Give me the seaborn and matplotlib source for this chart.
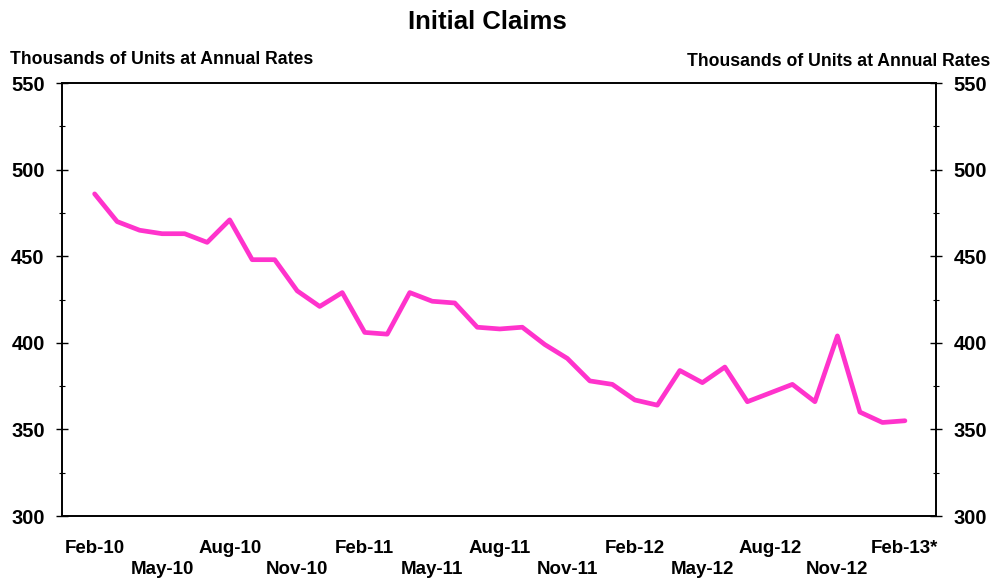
import pandas as pd
import numpy as np
import matplotlib
matplotlib.use("Agg")
import matplotlib.pyplot as plt
import seaborn as sns
from matplotlib.ticker import MultipleLocator

sns.set_style("white")
plt.rcParams['font.family'] = ['Liberation Sans', 'DejaVu Sans']
plt.rcParams['font.weight'] = 'bold'
plt.rcParams['text.color'] = 'black'
plt.rcParams['xtick.color'] = 'black'
plt.rcParams['ytick.color'] = 'black'

# 数据
months = ['Feb-10', 'Mar-10', 'Apr-10', 'May-10', 'Jun-10', 'Jul-10', 'Aug-10', 'Sep-10',
          'Oct-10', 'Nov-10', 'Dec-10', 'Jan-11', 'Feb-11', 'Mar-11', 'Apr-11', 'May-11',
          'Jun-11', 'Jul-11', 'Aug-11', 'Sep-11', 'Oct-11', 'Nov-11', 'Dec-11', 'Jan-12',
          'Feb-12', 'Mar-12', 'Apr-12', 'May-12', 'Jun-12', 'Jul-12', 'Aug-12', 'Sep-12',
          'Oct-12', 'Nov-12', 'Dec-12', 'Jan-13', 'Feb-13*']
claims = [486, 470, 465, 463, 463, 458, 471, 448, 448, 430, 421, 429,
          406, 405, 429, 424, 423, 409, 408, 409, 399, 391, 378, 376,
          367, 364, 384, 377, 386, 366, 371, 376, 366, 404, 360, 354, 355]
y_ticks = [300, 350, 400, 450, 500, 550]

df = pd.DataFrame({'month': months, 'claims': claims})
df['pos'] = np.arange(len(df))

fig = plt.figure(figsize=(9.95, 5.79), dpi=100)
ax = fig.add_axes([0.0623, 0.1088, 0.8784, 0.7478])

sns.lineplot(data=df, x='pos', y='claims', ax=ax, color='#FF33CC', linewidth=3.4)

ax.set_xlim(-1.45, len(df) - 1 + 1.38)
ax.set_ylim(300, 550)
ax.set_xlabel('')
ax.set_ylabel('')

# x 轴刻度：每月一个刻度，每三个月一个标签，交错两行
ax.set_xticks(df['pos'])
labels = []
for i, m in enumerate(months):
    if i % 6 == 0:
        labels.append(m)
    elif i % 3 == 0:
        labels.append('\n' + m)
    else:
        labels.append('')
ax.set_xticklabels(labels, fontsize=13.5, fontweight='bold', linespacing=1.35)
ax.tick_params(axis='x', direction='inout', length=8, width=0.8, pad=13)

ax.set_yticks(y_ticks)
ax.yaxis.set_minor_locator(MultipleLocator(25))
ax.tick_params(axis='y', which='major', direction='inout', length=9, width=1, pad=8,
               labelsize=14.5)
ax.tick_params(axis='y', which='minor', direction='inout', length=5, width=0.8)
for t in ax.get_yticklabels():
    t.set_fontweight('bold')

ax2 = ax.twinx()
ax2.set_ylim(300, 550)
ax2.set_yticks(y_ticks)
ax2.yaxis.set_minor_locator(MultipleLocator(25))
ax2.tick_params(axis='y', which='major', direction='inout', length=9, width=1, pad=8,
                labelsize=14.5)
ax2.tick_params(axis='y', which='minor', direction='inout', length=5, width=0.8)
for t in ax2.get_yticklabels():
    t.set_fontweight('bold')

for a in (ax, ax2):
    for s in a.spines.values():
        s.set_color('black')
        s.set_linewidth(1.2)
        s.set_visible(True)

fig.text(0.49, 0.962, 'Initial Claims', ha='center', va='center', fontsize=18.5, fontweight='bold')
fig.text(0.01, 0.897, 'Thousands of Units at Annual Rates', ha='left', va='center',
         fontsize=12.7, fontweight='bold')
fig.text(0.995, 0.893, 'Thousands of Units at Annual Rates', ha='right', va='center',
         fontsize=12.7, fontweight='bold')

plt.savefig('out.png', dpi=100)
plt.close()
